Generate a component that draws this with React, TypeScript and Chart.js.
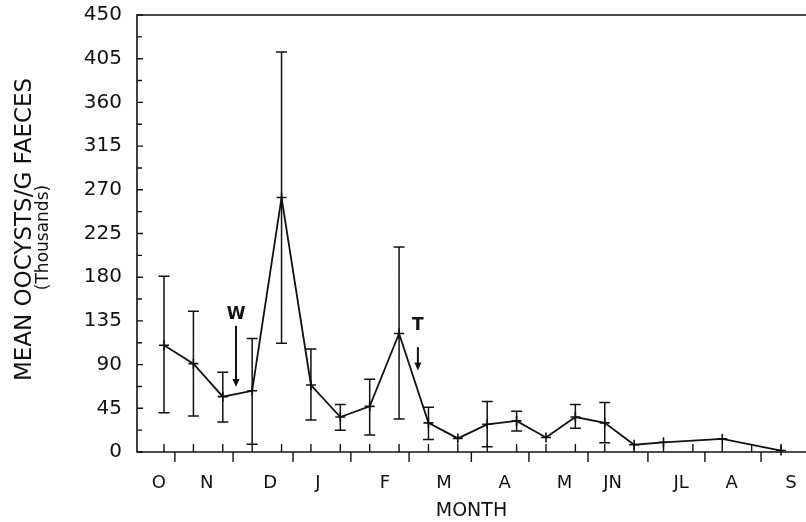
import React, { useEffect, useRef } from 'react';
import { Chart, registerables } from 'chart.js';

Chart.register(...registerables);

// ---- Data (x = sampling occasion index, y = thousands of oocysts/g) ----
const sampleIndex = [0, 1, 2, 3, 4, 5, 6, 7, 8, 9, 10, 11, 12, 13, 14, 15, 16, 17, 19, 21];
const meanOocysts = [110, 91, 57, 63, 262, 69, 36, 47, 122, 30, 14, 28.5, 32, 15, 36, 30, 7.5, 10, 13.5, 1.5];
const errorUpper: (number | null)[] = [181, 145, 82, 117, 412, 106, 49, 75, 211, 46, null, 52, 42, null, 49, 51, null, null, null, null];
const errorLower: (number | null)[] = [40.5, 37, 31, 8, 112, 33, 22.5, 17.5, 34, 13, null, 5.5, 21.5, null, 24.5, 9.5, null, null, null, null];

const samplingTicks = [0, 1, 2, 3, 4, 5, 6, 7, 8, 9, 10, 11, 12, 13, 14, 15, 16, 17, 18, 19, 20, 21];
const monthLabels = ['O', 'N', 'D', 'J', 'F', 'M', 'A', 'M', 'JN', 'JL', 'A', 'S'];
const monthLabelPos = [-0.18, 1.45, 3.61, 5.24, 7.52, 9.53, 11.59, 13.63, 15.27, 17.6, 19.32, 21.34];
const monthBoundaries = [0.37, 2.35, 4.39, 6.36, 8.34, 10.46, 12.42, 14.43, 16.47, 18.41, 20.32];

const yTickValues = [0, 45, 90, 135, 180, 225, 270, 315, 360, 405, 450];
const yMinorValues = [22.5, 67.5, 112.5, 157.5, 202.5, 247.5, 292.5, 337.5, 382.5, 427.5];

const annotationLabels = ['W', 'T'];
const annotationX = [2.45, 8.64];
const annotationTextY = [141, 130];
const annotationArrowTop = [130, 108];
const annotationArrowBottom = [67, 84];

const FONT = "'DejaVu Sans', sans-serif";
const INK = '#111';

const decorPlugin = {
  id: 'decor',
  beforeDatasetsDraw(chart: any) {
    const { ctx, chartArea, scales } = chart;
    const xs = scales.x;
    const ys = scales.y;
    const { left, top, bottom } = chartArea;
    const right = chart.width;
    ctx.save();
    ctx.strokeStyle = INK;
    ctx.fillStyle = INK;
    ctx.lineWidth = 1.6;
    // frame: top, left, bottom
    ctx.beginPath();
    ctx.moveTo(right, top);
    ctx.lineTo(left, top);
    ctx.lineTo(left, bottom);
    ctx.lineTo(right, bottom);
    ctx.stroke();

    // y inward ticks
    ctx.lineWidth = 1.4;
    ctx.beginPath();
    yTickValues.forEach((v) => {
      const y = ys.getPixelForValue(v);
      ctx.moveTo(left, y);
      ctx.lineTo(left + 6, y);
    });
    yMinorValues.forEach((v) => {
      const y = ys.getPixelForValue(v);
      ctx.moveTo(left, y);
      ctx.lineTo(left + 5, y);
    });
    ctx.stroke();

    // x inward ticks at sampling occasions
    ctx.beginPath();
    samplingTicks.forEach((v) => {
      const x = xs.getPixelForValue(v);
      ctx.moveTo(x, bottom);
      ctx.lineTo(x, bottom - 8);
    });
    // x outward ticks at month boundaries
    monthBoundaries.forEach((v) => {
      const x = xs.getPixelForValue(v);
      ctx.moveTo(x, bottom);
      ctx.lineTo(x, bottom + 10);
    });
    ctx.stroke();

    // error bars
    ctx.lineWidth = 1.5;
    ctx.beginPath();
    sampleIndex.forEach((xi, i) => {
      const hi = errorUpper[i];
      const lo = errorLower[i];
      if (hi == null || lo == null) return;
      const x = xs.getPixelForValue(xi);
      const yh = ys.getPixelForValue(hi);
      const yl = ys.getPixelForValue(lo);
      ctx.moveTo(x, yh);
      ctx.lineTo(x, yl);
      ctx.moveTo(x - 5.5, yh);
      ctx.lineTo(x + 5.5, yh);
      ctx.moveTo(x - 5.5, yl);
      ctx.lineTo(x + 5.5, yl);
    });
    ctx.stroke();

    // annotations W / T with arrows
    annotationLabels.forEach((lab, i) => {
      const x = xs.getPixelForValue(annotationX[i]);
      const ty = ys.getPixelForValue(annotationTextY[i]);
      const a0 = ys.getPixelForValue(annotationArrowTop[i]);
      const a1 = ys.getPixelForValue(annotationArrowBottom[i]);
      ctx.font = `bold 17px ${FONT}`;
      ctx.textAlign = 'center';
      ctx.textBaseline = 'middle';
      ctx.fillText(lab, x, ty);
      ctx.lineWidth = 2;
      ctx.beginPath();
      ctx.moveTo(x, a0);
      ctx.lineTo(x, a1 - 6);
      ctx.stroke();
      ctx.beginPath();
      ctx.moveTo(x - 3.5, a1 - 8);
      ctx.lineTo(x + 3.5, a1 - 8);
      ctx.lineTo(x, a1);
      ctx.closePath();
      ctx.fill();
    });

    // y axis title (two lines)
    const cy = (top + bottom) / 2;
    ctx.save();
    ctx.translate(25, cy - 4);
    ctx.rotate(-Math.PI / 2);
    ctx.font = `23px ${FONT}`;
    ctx.textAlign = 'center';
    ctx.textBaseline = 'middle';
    ctx.fillText('MEAN OOCYSTS/G FAECES', 0, 0);
    ctx.restore();
    ctx.save();
    ctx.translate(44, cy + 4);
    ctx.rotate(-Math.PI / 2);
    ctx.font = `17px ${FONT}`;
    ctx.textAlign = 'center';
    ctx.textBaseline = 'middle';
    ctx.fillText('(Thousands)', 0, 0);
    ctx.restore();

    ctx.restore();
  },
};

export default function App() {
  const canvasRef = useRef<HTMLCanvasElement | null>(null);

  useEffect(() => {
    const canvas = canvasRef.current;
    if (!canvas) return;
    const chart = new Chart(canvas, {
      type: 'line',
      data: {
        datasets: [
          {
            data: sampleIndex.map((x, i) => ({ x, y: meanOocysts[i] })),
            borderColor: INK,
            borderWidth: 1.8,
            pointStyle: 'cross',
            pointRadius: 5,
            pointBorderWidth: 1.6,
            pointBorderColor: INK,
            tension: 0,
            fill: false,
            clip: false,
          },
        ],
      },
      options: {
        responsive: false,
        animation: false,
        events: [],
        layout: { autoPadding: false, padding: { left: 0, top: 15, right: 0, bottom: 0 } },
        plugins: {
          legend: { display: false },
          tooltip: { enabled: false },
          title: { display: false },
        },
        scales: {
          x: {
            type: 'linear',
            min: -0.92,
            max: 21.85,
            grid: { display: false, drawTicks: false },
            border: { display: false },
            afterBuildTicks: (scale: any) => {
              scale.ticks = monthLabelPos.map((v) => ({ value: v }));
            },
            afterFit: (scale: any) => {
              scale.height = 70;
              scale.paddingLeft = 0;
              scale.paddingRight = 0;
            },
            ticks: {
              autoSkip: false,
              maxRotation: 0,
              padding: 21,
              color: INK,
              font: { family: FONT, size: 18 },
              callback: (_v: any, i: number) => monthLabels[i],
            },
            title: {
              display: true,
              text: 'MONTH',
              color: INK,
              font: { family: FONT, size: 19 },
              padding: { top: 0, bottom: 0 },
            },
          },
          y: {
            type: 'linear',
            min: 0,
            max: 450,
            grid: { display: false, drawTicks: false },
            border: { display: false },
            afterBuildTicks: (scale: any) => {
              scale.ticks = yTickValues.map((v) => ({ value: v }));
            },
            afterFit: (scale: any) => {
              scale.width = 137;
              scale.paddingTop = 0;
              scale.paddingBottom = 0;
            },
            ticks: {
              padding: 15,
              color: INK,
              font: { family: FONT, size: 20 },
            },
          },
        },
      },
      plugins: [decorPlugin],
    });
    return () => chart.destroy();
  }, []);

  return (
    <div style={{ position: 'fixed', left: 0, top: 0, width: 806, height: 522, background: '#fff' }}>
      <canvas ref={canvasRef} width={806} height={522} style={{ display: 'block' }} />
    </div>
  );
}
